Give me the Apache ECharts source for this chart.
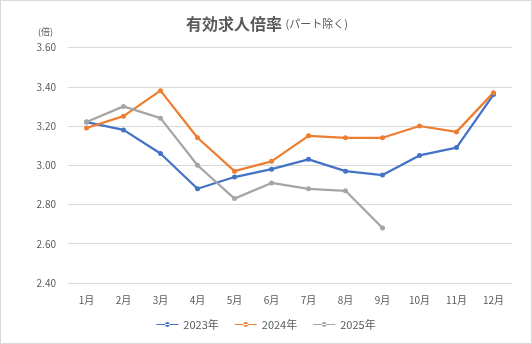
<!DOCTYPE html>
<html>
<head>
<meta charset="utf-8">
<script src="https://cdn.jsdelivr.net/npm/echarts@6/dist/echarts.min.js"></script>
<style>
  html, body { margin: 0; padding: 0; background: #fff; }
  #chart { width: 530px; height: 342px; border: 1px solid #d9d9d9; }
</style>
</head>
<body>
<div id="chart"></div>
<script>
const months = ['1月','2月','3月','4月','5月','6月','7月','8月','9月','10月','11月','12月'];
const ratio2023 = [3.22, 3.18, 3.06, 2.88, 2.94, 2.98, 3.03, 2.97, 2.95, 3.05, 3.09, 3.36];
const ratio2024 = [3.19, 3.25, 3.38, 3.14, 2.97, 3.02, 3.15, 3.14, 3.14, 3.20, 3.17, 3.37];
const ratio2025 = [3.22, 3.30, 3.24, 3.00, 2.83, 2.91, 2.88, 2.87, 2.68];
const seriesNames = ['2023年', '2024年', '2025年'];
const colors = ['#4472C4', '#ED7D31', '#A5A5A5'];

const font = '"Noto Sans CJK JP", "Noto Sans", sans-serif';
const chart = echarts.init(document.getElementById('chart'));

function lineSeries(name, data, color) {
  return {
    name, type: 'line', data,
    symbol: 'circle', symbolSize: 5,
    lineStyle: { color, width: 2.25 },
    itemStyle: { color },
    emphasis: { disabled: true }
  };
}

chart.setOption({
  animation: false,
  textStyle: { fontFamily: font },
  title: {
    text: '有効求人倍率 {s|(パート除く)}',
    left: 261, top: 10, textAlign: 'center',
    textStyle: {
      fontFamily: font, fontSize: 16, fontWeight: 'bold', color: '#595959',
      rich: { s: { fontFamily: font, fontSize: 11, fontWeight: 'normal', color: '#595959' } }
    }
  },
  grid: { left: 67, right: 19, top: 46.5, bottom: 60 },
  legend: {
    bottom: 8, left: 'center', itemGap: 16,
    itemWidth: 22, itemHeight: 6,
    icon: 'path://M0,2.4h22v1.2h-22z M8.6,3a2.4,2.4 0 1,0 4.8,0a2.4,2.4 0 1,0 -4.8,0z',
    textStyle: { fontFamily: font, fontSize: 11, color: '#595959' },
    data: seriesNames.map((n, i) => ({ name: n, itemStyle: { color: colors[i] } }))
  },
  xAxis: {
    type: 'category', data: months, boundaryGap: true,
    axisLine: { show: false }, axisTick: { show: false },
    axisLabel: { fontFamily: font, fontSize: 10, color: '#595959', margin: 12 }
  },
  yAxis: {
    type: 'value', min: 2.4, max: 3.6, interval: 0.2,
    name: '(倍)', nameLocation: 'end', nameGap: 11,
    nameTextStyle: { fontFamily: font, fontSize: 9, color: '#595959', align: 'right', padding: [0, 15, 0, 0] },
    axisLine: { show: false }, axisTick: { show: false },
    splitLine: { lineStyle: { color: '#d9d9d9', width: 1 } },
    axisLabel: { fontFamily: font, fontSize: 10, color: '#595959', margin: 12, formatter: v => v.toFixed(2) }
  },
  series: [
    lineSeries(seriesNames[0], ratio2023, colors[0]),
    lineSeries(seriesNames[1], ratio2024, colors[1]),
    lineSeries(seriesNames[2], ratio2025, colors[2])
  ]
});
</script>
</body>
</html>
